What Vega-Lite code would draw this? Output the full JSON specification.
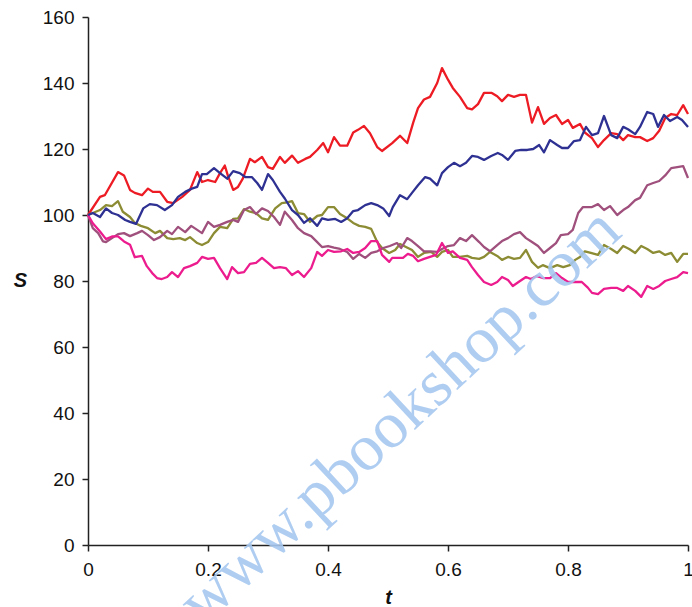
{
"$schema": "https://vega.github.io/schema/vega-lite/v6.json",
"width": 600, "height": 528,
"autosize": "none",
"padding": {"left": 88, "top": 17, "right": 4, "bottom": 62},
"background": "white",
"config": {"view": {"stroke": null}, "font": "Liberation Sans"},
"datasets": {
"paths": [
{"s":"red","t":0,"S":100},{"s":"red","t":0.02,"S":105.5},{"s":"red","t":0.028,"S":106},{"s":"red","t":0.05,"S":113},{"s":"red","t":0.06,"S":112},{"s":"red","t":0.07,"S":107.6},{"s":"red","t":0.078,"S":106.7},{"s":"red","t":0.09,"S":106},{"s":"red","t":0.1,"S":108},{"s":"red","t":0.108,"S":107},{"s":"red","t":0.12,"S":107},{"s":"red","t":0.132,"S":104},{"s":"red","t":0.142,"S":103.6},{"s":"red","t":0.157,"S":105.5},{"s":"red","t":0.17,"S":107.6},{"s":"red","t":0.182,"S":113},{"s":"red","t":0.19,"S":110},{"s":"red","t":0.2,"S":110.6},{"s":"red","t":0.212,"S":110},{"s":"red","t":0.22,"S":112.7},{"s":"red","t":0.228,"S":115},{"s":"red","t":0.233,"S":112},{"s":"red","t":0.242,"S":107.6},{"s":"red","t":0.25,"S":108.5},{"s":"red","t":0.258,"S":111},{"s":"red","t":0.27,"S":117},{"s":"red","t":0.278,"S":116},{"s":"red","t":0.29,"S":117.6},{"s":"red","t":0.3,"S":114.5},{"s":"red","t":0.308,"S":114},{"s":"red","t":0.32,"S":117.6},{"s":"red","t":0.328,"S":115.8},{"s":"red","t":0.34,"S":118},{"s":"red","t":0.35,"S":115.8},{"s":"red","t":0.362,"S":117},{"s":"red","t":0.37,"S":117.6},{"s":"red","t":0.382,"S":119.7},{"s":"red","t":0.392,"S":121.8},{"s":"red","t":0.4,"S":119},{"s":"red","t":0.41,"S":123.6},{"s":"red","t":0.42,"S":121},{"s":"red","t":0.432,"S":121},{"s":"red","t":0.442,"S":125},{"s":"red","t":0.45,"S":125.8},{"s":"red","t":0.46,"S":127},{"s":"red","t":0.47,"S":124.8},{"s":"red","t":0.482,"S":120.6},{"s":"red","t":0.49,"S":119.4},{"s":"red","t":0.507,"S":121.8},{"s":"red","t":0.52,"S":124},{"s":"red","t":0.532,"S":121.8},{"s":"red","t":0.542,"S":128},{"s":"red","t":0.55,"S":132.4},{"s":"red","t":0.56,"S":135},{"s":"red","t":0.57,"S":135.8},{"s":"red","t":0.582,"S":140},{"s":"red","t":0.59,"S":144.5},{"s":"red","t":0.6,"S":141},{"s":"red","t":0.608,"S":138.5},{"s":"red","t":0.62,"S":135.8},{"s":"red","t":0.632,"S":132.4},{"s":"red","t":0.64,"S":132},{"s":"red","t":0.65,"S":133.6},{"s":"red","t":0.66,"S":137},{"s":"red","t":0.673,"S":137},{"s":"red","t":0.682,"S":136},{"s":"red","t":0.69,"S":134.5},{"s":"red","t":0.7,"S":136.4},{"s":"red","t":0.71,"S":135.8},{"s":"red","t":0.72,"S":136.4},{"s":"red","t":0.73,"S":136.4},{"s":"red","t":0.74,"S":128},{"s":"red","t":0.75,"S":132.7},{"s":"red","t":0.76,"S":127.6},{"s":"red","t":0.77,"S":129.4},{"s":"red","t":0.78,"S":130.3},{"s":"red","t":0.79,"S":127.6},{"s":"red","t":0.8,"S":128.8},{"s":"red","t":0.808,"S":126.4},{"s":"red","t":0.82,"S":127.6},{"s":"red","t":0.828,"S":125},{"s":"red","t":0.84,"S":123.3},{"s":"red","t":0.85,"S":120.6},{"s":"red","t":0.86,"S":122.7},{"s":"red","t":0.872,"S":124.8},{"s":"red","t":0.882,"S":124.5},{"s":"red","t":0.892,"S":122.7},{"s":"red","t":0.9,"S":124.2},{"s":"red","t":0.912,"S":123.6},{"s":"red","t":0.92,"S":123.6},{"s":"red","t":0.932,"S":122.4},{"s":"red","t":0.942,"S":123.3},{"s":"red","t":0.952,"S":125.5},{"s":"red","t":0.962,"S":129.4},{"s":"red","t":0.972,"S":130.6},{"s":"red","t":0.982,"S":130.3},{"s":"red","t":0.992,"S":133.3},{"s":"red","t":1,"S":130.6},

{"s":"olive","t":0,"S":100},{"s":"olive","t":0.008,"S":100.6},{"s":"olive","t":0.02,"S":101.5},{"s":"olive","t":0.03,"S":103},{"s":"olive","t":0.04,"S":102.7},{"s":"olive","t":0.05,"S":104.2},{"s":"olive","t":0.058,"S":101},{"s":"olive","t":0.07,"S":99.4},{"s":"olive","t":0.078,"S":97.6},{"s":"olive","t":0.088,"S":96.7},{"s":"olive","t":0.1,"S":96},{"s":"olive","t":0.112,"S":94.5},{"s":"olive","t":0.12,"S":95.2},{"s":"olive","t":0.132,"S":93},{"s":"olive","t":0.142,"S":92.7},{"s":"olive","t":0.153,"S":93},{"s":"olive","t":0.162,"S":92.4},{"s":"olive","t":0.17,"S":93.3},{"s":"olive","t":0.182,"S":91.5},{"s":"olive","t":0.19,"S":90.9},{"s":"olive","t":0.2,"S":91.8},{"s":"olive","t":0.21,"S":94.5},{"s":"olive","t":0.22,"S":96.4},{"s":"olive","t":0.232,"S":96},{"s":"olive","t":0.242,"S":98.8},{"s":"olive","t":0.25,"S":99},{"s":"olive","t":0.26,"S":101.8},{"s":"olive","t":0.27,"S":101},{"s":"olive","t":0.28,"S":100.6},{"s":"olive","t":0.29,"S":99},{"s":"olive","t":0.3,"S":98.5},{"s":"olive","t":0.312,"S":102},{"s":"olive","t":0.323,"S":103.6},{"s":"olive","t":0.332,"S":103.8},{"s":"olive","t":0.34,"S":104.2},{"s":"olive","t":0.35,"S":100.6},{"s":"olive","t":0.36,"S":100.3},{"s":"olive","t":0.37,"S":97.9},{"s":"olive","t":0.382,"S":99.7},{"s":"olive","t":0.39,"S":100},{"s":"olive","t":0.4,"S":102.4},{"s":"olive","t":0.41,"S":102.4},{"s":"olive","t":0.42,"S":100.3},{"s":"olive","t":0.432,"S":99},{"s":"olive","t":0.442,"S":97.6},{"s":"olive","t":0.452,"S":96.7},{"s":"olive","t":0.462,"S":96.4},{"s":"olive","t":0.472,"S":95.8},{"s":"olive","t":0.482,"S":91.8},{"s":"olive","t":0.49,"S":90},{"s":"olive","t":0.502,"S":88.5},{"s":"olive","t":0.512,"S":89.4},{"s":"olive","t":0.52,"S":91.2},{"s":"olive","t":0.53,"S":90.3},{"s":"olive","t":0.54,"S":89.4},{"s":"olive","t":0.55,"S":87.3},{"s":"olive","t":0.56,"S":88.5},{"s":"olive","t":0.572,"S":88.8},{"s":"olive","t":0.582,"S":87.3},{"s":"olive","t":0.59,"S":88.8},{"s":"olive","t":0.6,"S":89.4},{"s":"olive","t":0.608,"S":87.3},{"s":"olive","t":0.62,"S":87.3},{"s":"olive","t":0.632,"S":87.6},{"s":"olive","t":0.64,"S":87},{"s":"olive","t":0.652,"S":86.7},{"s":"olive","t":0.66,"S":87.3},{"s":"olive","t":0.67,"S":88.8},{"s":"olive","t":0.682,"S":87.6},{"s":"olive","t":0.69,"S":86.4},{"s":"olive","t":0.7,"S":87.3},{"s":"olive","t":0.71,"S":86.7},{"s":"olive","t":0.72,"S":87},{"s":"olive","t":0.73,"S":89.4},{"s":"olive","t":0.74,"S":85.8},{"s":"olive","t":0.75,"S":84},{"s":"olive","t":0.758,"S":84.8},{"s":"olive","t":0.77,"S":83.9},{"s":"olive","t":0.782,"S":84.8},{"s":"olive","t":0.792,"S":84.2},{"s":"olive","t":0.803,"S":84.8},{"s":"olive","t":0.812,"S":86.4},{"s":"olive","t":0.82,"S":87.3},{"s":"olive","t":0.828,"S":89},{"s":"olive","t":0.838,"S":88.5},{"s":"olive","t":0.85,"S":87.9},{"s":"olive","t":0.86,"S":90.9},{"s":"olive","t":0.872,"S":89.7},{"s":"olive","t":0.882,"S":88.5},{"s":"olive","t":0.892,"S":90.6},{"s":"olive","t":0.902,"S":89.7},{"s":"olive","t":0.912,"S":88.5},{"s":"olive","t":0.922,"S":90.6},{"s":"olive","t":0.932,"S":89.7},{"s":"olive","t":0.942,"S":88.5},{"s":"olive","t":0.952,"S":89},{"s":"olive","t":0.962,"S":87.9},{"s":"olive","t":0.972,"S":88.5},{"s":"olive","t":0.982,"S":85.8},{"s":"olive","t":0.992,"S":88.2},{"s":"olive","t":1,"S":88.2},

{"s":"mauve","t":0,"S":100},{"s":"mauve","t":0.008,"S":96},{"s":"mauve","t":0.017,"S":94.5},{"s":"mauve","t":0.025,"S":92},{"s":"mauve","t":0.03,"S":91.8},{"s":"mauve","t":0.04,"S":93},{"s":"mauve","t":0.05,"S":94.2},{"s":"mauve","t":0.06,"S":94.5},{"s":"mauve","t":0.07,"S":93.6},{"s":"mauve","t":0.082,"S":94.5},{"s":"mauve","t":0.09,"S":95.2},{"s":"mauve","t":0.1,"S":93.9},{"s":"mauve","t":0.11,"S":92.4},{"s":"mauve","t":0.12,"S":93.3},{"s":"mauve","t":0.132,"S":95.2},{"s":"mauve","t":0.14,"S":94.2},{"s":"mauve","t":0.15,"S":96.4},{"s":"mauve","t":0.162,"S":94.8},{"s":"mauve","t":0.172,"S":96.7},{"s":"mauve","t":0.182,"S":95.5},{"s":"mauve","t":0.19,"S":94.5},{"s":"mauve","t":0.2,"S":97.9},{"s":"mauve","t":0.21,"S":96.4},{"s":"mauve","t":0.22,"S":97},{"s":"mauve","t":0.232,"S":97.9},{"s":"mauve","t":0.242,"S":98.5},{"s":"mauve","t":0.25,"S":97.9},{"s":"mauve","t":0.26,"S":101.5},{"s":"mauve","t":0.27,"S":102.4},{"s":"mauve","t":0.28,"S":100.3},{"s":"mauve","t":0.29,"S":102},{"s":"mauve","t":0.3,"S":101.2},{"s":"mauve","t":0.31,"S":99.4},{"s":"mauve","t":0.32,"S":97},{"s":"mauve","t":0.328,"S":101},{"s":"mauve","t":0.34,"S":98.5},{"s":"mauve","t":0.35,"S":96},{"s":"mauve","t":0.36,"S":94.5},{"s":"mauve","t":0.372,"S":93.6},{"s":"mauve","t":0.382,"S":91.8},{"s":"mauve","t":0.39,"S":90.3},{"s":"mauve","t":0.4,"S":90.6},{"s":"mauve","t":0.41,"S":90.1},{"s":"mauve","t":0.42,"S":89.7},{"s":"mauve","t":0.432,"S":88.8},{"s":"mauve","t":0.442,"S":86.7},{"s":"mauve","t":0.452,"S":88.2},{"s":"mauve","t":0.462,"S":87},{"s":"mauve","t":0.472,"S":88.5},{"s":"mauve","t":0.482,"S":89},{"s":"mauve","t":0.492,"S":90},{"s":"mauve","t":0.503,"S":90.6},{"s":"mauve","t":0.515,"S":91.5},{"s":"mauve","t":0.522,"S":90},{"s":"mauve","t":0.532,"S":93},{"s":"mauve","t":0.54,"S":92.1},{"s":"mauve","t":0.55,"S":90.6},{"s":"mauve","t":0.56,"S":89},{"s":"mauve","t":0.57,"S":89},{"s":"mauve","t":0.582,"S":88.8},{"s":"mauve","t":0.59,"S":89.7},{"s":"mauve","t":0.6,"S":90.6},{"s":"mauve","t":0.61,"S":90.9},{"s":"mauve","t":0.62,"S":93},{"s":"mauve","t":0.63,"S":92.1},{"s":"mauve","t":0.64,"S":93.9},{"s":"mauve","t":0.652,"S":91.8},{"s":"mauve","t":0.66,"S":90.3},{"s":"mauve","t":0.67,"S":89},{"s":"mauve","t":0.682,"S":90.9},{"s":"mauve","t":0.69,"S":92.1},{"s":"mauve","t":0.7,"S":93},{"s":"mauve","t":0.71,"S":94.2},{"s":"mauve","t":0.72,"S":94.8},{"s":"mauve","t":0.73,"S":93},{"s":"mauve","t":0.74,"S":91.8},{"s":"mauve","t":0.75,"S":90.6},{"s":"mauve","t":0.76,"S":88.5},{"s":"mauve","t":0.77,"S":90},{"s":"mauve","t":0.78,"S":91.5},{"s":"mauve","t":0.788,"S":93.9},{"s":"mauve","t":0.8,"S":94.2},{"s":"mauve","t":0.808,"S":95.5},{"s":"mauve","t":0.817,"S":100.6},{"s":"mauve","t":0.825,"S":102.4},{"s":"mauve","t":0.84,"S":102.4},{"s":"mauve","t":0.85,"S":103.3},{"s":"mauve","t":0.86,"S":101.5},{"s":"mauve","t":0.87,"S":102.7},{"s":"mauve","t":0.882,"S":100},{"s":"mauve","t":0.892,"S":101.5},{"s":"mauve","t":0.9,"S":102.4},{"s":"mauve","t":0.912,"S":104.5},{"s":"mauve","t":0.92,"S":105.2},{"s":"mauve","t":0.932,"S":109},{"s":"mauve","t":0.942,"S":109.7},{"s":"mauve","t":0.952,"S":110.3},{"s":"mauve","t":0.962,"S":112},{"s":"mauve","t":0.972,"S":114.2},{"s":"mauve","t":0.982,"S":114.5},{"s":"mauve","t":0.992,"S":114.8},{"s":"mauve","t":1,"S":111.2},

{"s":"pink","t":0,"S":100},{"s":"pink","t":0.008,"S":97.5},{"s":"pink","t":0.02,"S":95},{"s":"pink","t":0.03,"S":92.7},{"s":"pink","t":0.04,"S":93.5},{"s":"pink","t":0.05,"S":93.5},{"s":"pink","t":0.06,"S":92},{"s":"pink","t":0.07,"S":91},{"s":"pink","t":0.078,"S":87.2},{"s":"pink","t":0.09,"S":87.6},{"s":"pink","t":0.098,"S":84.5},{"s":"pink","t":0.107,"S":82.4},{"s":"pink","t":0.115,"S":80.9},{"s":"pink","t":0.123,"S":80.6},{"s":"pink","t":0.132,"S":81.2},{"s":"pink","t":0.14,"S":82.7},{"s":"pink","t":0.15,"S":81.2},{"s":"pink","t":0.16,"S":83.9},{"s":"pink","t":0.17,"S":84.5},{"s":"pink","t":0.182,"S":85.5},{"s":"pink","t":0.19,"S":87.3},{"s":"pink","t":0.2,"S":86.7},{"s":"pink","t":0.21,"S":87},{"s":"pink","t":0.22,"S":83.9},{"s":"pink","t":0.232,"S":80.6},{"s":"pink","t":0.24,"S":84.2},{"s":"pink","t":0.25,"S":82.4},{"s":"pink","t":0.26,"S":82.7},{"s":"pink","t":0.27,"S":85.2},{"s":"pink","t":0.28,"S":85.5},{"s":"pink","t":0.29,"S":87},{"s":"pink","t":0.3,"S":85.5},{"s":"pink","t":0.31,"S":83.9},{"s":"pink","t":0.32,"S":84.2},{"s":"pink","t":0.33,"S":83.9},{"s":"pink","t":0.34,"S":81.8},{"s":"pink","t":0.35,"S":83},{"s":"pink","t":0.36,"S":81.2},{"s":"pink","t":0.372,"S":83.9},{"s":"pink","t":0.382,"S":88.8},{"s":"pink","t":0.39,"S":87.6},{"s":"pink","t":0.4,"S":89.4},{"s":"pink","t":0.41,"S":88.8},{"s":"pink","t":0.422,"S":89},{"s":"pink","t":0.432,"S":89.7},{"s":"pink","t":0.442,"S":88.5},{"s":"pink","t":0.452,"S":88.8},{"s":"pink","t":0.462,"S":90},{"s":"pink","t":0.472,"S":92.1},{"s":"pink","t":0.482,"S":92.1},{"s":"pink","t":0.49,"S":87.9},{"s":"pink","t":0.502,"S":85.8},{"s":"pink","t":0.507,"S":87},{"s":"pink","t":0.515,"S":87},{"s":"pink","t":0.525,"S":87},{"s":"pink","t":0.533,"S":88.2},{"s":"pink","t":0.542,"S":87.6},{"s":"pink","t":0.55,"S":86},{"s":"pink","t":0.56,"S":86.7},{"s":"pink","t":0.57,"S":87.3},{"s":"pink","t":0.58,"S":87.9},{"s":"pink","t":0.59,"S":91.5},{"s":"pink","t":0.6,"S":88.5},{"s":"pink","t":0.608,"S":89},{"s":"pink","t":0.62,"S":87},{"s":"pink","t":0.632,"S":86.4},{"s":"pink","t":0.64,"S":84.2},{"s":"pink","t":0.65,"S":81.8},{"s":"pink","t":0.66,"S":79.7},{"s":"pink","t":0.672,"S":78.8},{"s":"pink","t":0.682,"S":79.7},{"s":"pink","t":0.69,"S":81.2},{"s":"pink","t":0.7,"S":80.3},{"s":"pink","t":0.708,"S":78.5},{"s":"pink","t":0.72,"S":80},{"s":"pink","t":0.73,"S":81.2},{"s":"pink","t":0.738,"S":80.6},{"s":"pink","t":0.748,"S":81.5},{"s":"pink","t":0.758,"S":80.9},{"s":"pink","t":0.77,"S":80.9},{"s":"pink","t":0.78,"S":82.4},{"s":"pink","t":0.79,"S":80.9},{"s":"pink","t":0.8,"S":79.7},{"s":"pink","t":0.812,"S":79.7},{"s":"pink","t":0.823,"S":79.7},{"s":"pink","t":0.833,"S":78},{"s":"pink","t":0.84,"S":76.4},{"s":"pink","t":0.85,"S":76},{"s":"pink","t":0.86,"S":77.6},{"s":"pink","t":0.872,"S":77.9},{"s":"pink","t":0.882,"S":77.9},{"s":"pink","t":0.892,"S":77},{"s":"pink","t":0.9,"S":78.5},{"s":"pink","t":0.912,"S":77},{"s":"pink","t":0.922,"S":75.2},{"s":"pink","t":0.932,"S":78.5},{"s":"pink","t":0.942,"S":77.6},{"s":"pink","t":0.952,"S":78.5},{"s":"pink","t":0.962,"S":80},{"s":"pink","t":0.972,"S":80.6},{"s":"pink","t":0.982,"S":81.2},{"s":"pink","t":0.992,"S":82.7},{"s":"pink","t":1,"S":82.4},

{"s":"blue","t":0,"S":100},{"s":"blue","t":0.008,"S":100.6},{"s":"blue","t":0.02,"S":99.4},{"s":"blue","t":0.03,"S":102},{"s":"blue","t":0.04,"S":100.6},{"s":"blue","t":0.05,"S":100},{"s":"blue","t":0.062,"S":98.5},{"s":"blue","t":0.07,"S":97.9},{"s":"blue","t":0.08,"S":97.3},{"s":"blue","t":0.092,"S":102},{"s":"blue","t":0.103,"S":103.3},{"s":"blue","t":0.115,"S":103},{"s":"blue","t":0.128,"S":101.5},{"s":"blue","t":0.14,"S":103},{"s":"blue","t":0.15,"S":105.5},{"s":"blue","t":0.162,"S":107},{"s":"blue","t":0.173,"S":108},{"s":"blue","t":0.182,"S":108.5},{"s":"blue","t":0.19,"S":112.4},{"s":"blue","t":0.198,"S":112.4},{"s":"blue","t":0.21,"S":114.2},{"s":"blue","t":0.22,"S":112.7},{"s":"blue","t":0.232,"S":111},{"s":"blue","t":0.242,"S":113.3},{"s":"blue","t":0.253,"S":112.7},{"s":"blue","t":0.262,"S":111.5},{"s":"blue","t":0.273,"S":111.5},{"s":"blue","t":0.282,"S":109.7},{"s":"blue","t":0.29,"S":107.6},{"s":"blue","t":0.3,"S":112.4},{"s":"blue","t":0.308,"S":110.6},{"s":"blue","t":0.32,"S":107},{"s":"blue","t":0.328,"S":105},{"s":"blue","t":0.34,"S":101.5},{"s":"blue","t":0.35,"S":100},{"s":"blue","t":0.36,"S":97.6},{"s":"blue","t":0.37,"S":99},{"s":"blue","t":0.382,"S":96.7},{"s":"blue","t":0.39,"S":99},{"s":"blue","t":0.4,"S":98.5},{"s":"blue","t":0.412,"S":98.8},{"s":"blue","t":0.422,"S":97.9},{"s":"blue","t":0.432,"S":99},{"s":"blue","t":0.442,"S":101.2},{"s":"blue","t":0.45,"S":101.5},{"s":"blue","t":0.462,"S":103},{"s":"blue","t":0.472,"S":103.6},{"s":"blue","t":0.482,"S":103},{"s":"blue","t":0.492,"S":102},{"s":"blue","t":0.502,"S":99.7},{"s":"blue","t":0.508,"S":102.4},{"s":"blue","t":0.52,"S":106},{"s":"blue","t":0.532,"S":104.8},{"s":"blue","t":0.54,"S":106.7},{"s":"blue","t":0.55,"S":109},{"s":"blue","t":0.562,"S":111.5},{"s":"blue","t":0.57,"S":111},{"s":"blue","t":0.582,"S":109},{"s":"blue","t":0.59,"S":112.7},{"s":"blue","t":0.6,"S":114.5},{"s":"blue","t":0.61,"S":115.8},{"s":"blue","t":0.62,"S":114.8},{"s":"blue","t":0.63,"S":115.8},{"s":"blue","t":0.64,"S":117.9},{"s":"blue","t":0.65,"S":117.6},{"s":"blue","t":0.66,"S":116.7},{"s":"blue","t":0.672,"S":117.9},{"s":"blue","t":0.683,"S":118.8},{"s":"blue","t":0.69,"S":118.2},{"s":"blue","t":0.7,"S":116.7},{"s":"blue","t":0.712,"S":119.4},{"s":"blue","t":0.722,"S":119.7},{"s":"blue","t":0.732,"S":119.7},{"s":"blue","t":0.742,"S":120},{"s":"blue","t":0.752,"S":121.2},{"s":"blue","t":0.76,"S":119},{"s":"blue","t":0.77,"S":122.7},{"s":"blue","t":0.782,"S":121.2},{"s":"blue","t":0.79,"S":120.3},{"s":"blue","t":0.8,"S":120.3},{"s":"blue","t":0.81,"S":122.4},{"s":"blue","t":0.82,"S":122.7},{"s":"blue","t":0.83,"S":126.7},{"s":"blue","t":0.84,"S":124.2},{"s":"blue","t":0.85,"S":124.8},{"s":"blue","t":0.86,"S":130},{"s":"blue","t":0.872,"S":124.2},{"s":"blue","t":0.882,"S":123.3},{"s":"blue","t":0.892,"S":126.7},{"s":"blue","t":0.9,"S":126},{"s":"blue","t":0.912,"S":124.5},{"s":"blue","t":0.92,"S":126.7},{"s":"blue","t":0.932,"S":131.2},{"s":"blue","t":0.942,"S":130.6},{"s":"blue","t":0.95,"S":126.7},{"s":"blue","t":0.96,"S":130.3},{"s":"blue","t":0.97,"S":128.5},{"s":"blue","t":0.982,"S":129.7},{"s":"blue","t":0.99,"S":128.8},{"s":"blue","t":1,"S":126.7}
],
"mark": [{"t": 0.52, "S": 39, "label": "www.pbookshop.com"}]
},
"layer": [
{
"data": {"name": "paths"},
"mark": {"type": "line", "strokeWidth": 2.3, "strokeJoin": "round"},
"encoding": {
"x": {"field": "t", "type": "quantitative",
"scale": {"domain": [0, 1], "nice": false, "zero": false},
"axis": {"values": [0, 0.2, 0.4, 0.6, 0.8, 1], "format": "~g", "grid": false,
"domainColor": "#222", "domainWidth": 1.5, "tickColor": "#222", "tickWidth": 1.5, "tickSize": 6,
"labelFont": "Liberation Sans", "labelFontSize": 19, "labelColor": "#111", "labelPadding": 9, "labelFlush": false, "labelBound": false,
"title": "t", "titleFont": "Liberation Sans", "titleFontSize": 20, "titleFontStyle": "italic", "titleFontWeight": "bold", "titleColor": "#111",
"titleBaseline": "alphabetic", "titleY": 58}},
"y": {"field": "S", "type": "quantitative",
"scale": {"domain": [0, 160], "nice": false},
"axis": {"values": [0, 20, 40, 60, 80, 100, 120, 140, 160], "grid": false,
"domainColor": "#222", "domainWidth": 1.5, "tickColor": "#222", "tickWidth": 1.5, "tickSize": 6,
"labelFont": "Liberation Sans", "labelFontSize": 19, "labelColor": "#111", "labelPadding": 8,
"title": "S", "titleFont": "Liberation Sans", "titleFontSize": 20, "titleFontStyle": "italic", "titleFontWeight": "bold", "titleColor": "#111",
"titleAngle": 0, "titleAlign": "center", "titleBaseline": "middle", "titleX": -68, "titleY": 263}},
"color": {"field": "s", "type": "nominal",
"scale": {"domain": ["red", "olive", "mauve", "pink", "blue"], "range": ["#ED1C24", "#8C8C34", "#A0507C", "#EC1C8E", "#2E3192"]},
"legend": null},
"order": {"field": "t", "type": "quantitative"}
}
},
{
"data": {"name": "mark"},
"mark": {"type": "text", "font": "Liberation Serif", "fontSize": 66, "angle": -43, "align": "center", "baseline": "middle", "color": "#A6C8F0", "opacity": 0.9},
"encoding": {
"x": {"field": "t", "type": "quantitative"},
"y": {"field": "S", "type": "quantitative"},
"text": {"field": "label", "type": "nominal"}
}
}
]
}
